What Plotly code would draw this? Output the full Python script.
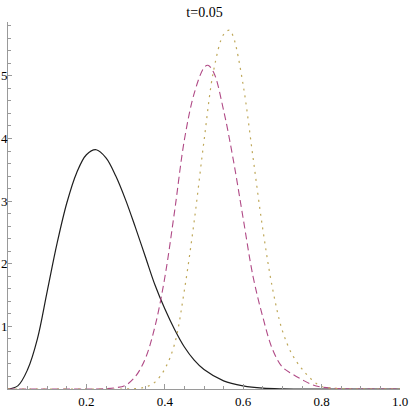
"""Three density curves at t=0.05, drawn in the Mathematica style"""

import plotly.graph_objects as go

# values
black_x = [0, 0.025, 0.05, 0.075, 0.1, 0.125, 0.15, 0.175, 0.2, 0.225, 0.25,
           0.275, 0.3, 0.325, 0.35, 0.375, 0.4, 0.425, 0.45, 0.475, 0.5,
           0.55, 0.6, 0.65, 0.7, 0.8, 0.9, 1.0]
black_y = [0, 0.05, 0.31, 0.8, 1.56, 2.32, 2.97, 3.45, 3.74, 3.82, 3.69,
           3.40, 3.02, 2.58, 2.12, 1.66, 1.28, 0.95, 0.67, 0.46, 0.31,
           0.13, 0.05, 0.014, 0.003, 0, 0, 0]

magenta_x = [0, 0.1, 0.2, 0.25, 0.275, 0.3, 0.325, 0.35, 0.375, 0.4, 0.425,
             0.45, 0.475, 0.5, 0.51, 0.525, 0.55, 0.575, 0.6, 0.625, 0.65,
             0.675, 0.7, 0.725, 0.75, 0.775, 0.8, 0.85, 0.9, 1.0]
magenta_y = [0, 0, 0, 0.005, 0.02, 0.06, 0.2, 0.48, 1.0, 1.78, 2.84,
             3.98, 4.72, 5.13, 5.17, 5.05, 4.45, 3.65, 2.72, 1.8, 1.15,
             0.63, 0.35, 0.24, 0.15, 0.07, 0.03, 0.005, 0, 0]

yellow_x = [0, 0.1, 0.2, 0.3, 0.35, 0.375, 0.4, 0.425, 0.45, 0.475, 0.5,
            0.525, 0.55, 0.565, 0.575, 0.6, 0.625, 0.65, 0.675, 0.7, 0.725,
            0.75, 0.775, 0.8, 0.85, 0.9, 1.0]
yellow_y = [0, 0, 0, 0, 0.03, 0.11, 0.32, 0.72, 1.58, 2.68, 3.96,
            5.1, 5.66, 5.73, 5.62, 4.85, 3.7, 2.55, 1.6, 0.93, 0.55,
            0.32, 0.15, 0.04, 0.005, 0, 0]

x_ticks = [0.2, 0.4, 0.6, 0.8, 1.0]
x_labels = ["0.2", "0.4", "0.6", "0.8", "1.0"]
y_ticks = [1, 2, 3, 4, 5]

serif = "Liberation Serif, Times New Roman, Times, serif"
axis_grey = "#9a9a9a"

fig = go.Figure()
fig.add_trace(go.Scatter(x=black_x, y=black_y, mode="lines",
                         line=dict(color="#1e1e1e", width=1.2, shape="spline")))
fig.add_trace(go.Scatter(x=magenta_x, y=magenta_y, mode="lines",
                         line=dict(color="#b04a86", width=1.1, shape="spline",
                                   dash="7px,4px")))
fig.add_trace(go.Scatter(x=yellow_x, y=yellow_y, mode="lines",
                         line=dict(color="#bfa85a", width=1.2, shape="spline",
                                   dash="2px,5px")))

fig.update_layout(
    width=409, height=409,
    margin=dict(l=8, r=9, t=22, b=20, autoexpand=False),
    paper_bgcolor="white", plot_bgcolor="white",
    showlegend=False,
    title=dict(text="t=0.05", x=0.5, xanchor="center", y=0.97, yanchor="middle",
               font=dict(family=serif, size=14, color="black")),
    font=dict(family=serif, size=13, color="black"),
)
fig.update_xaxes(
    range=[0, 1.0], showgrid=False, zeroline=False, automargin=False,
    showline=True, linecolor=axis_grey, linewidth=1,
    tickmode="array", tickvals=x_ticks, ticktext=x_labels,
    ticks="inside", ticklen=5, tickcolor=axis_grey, tickwidth=1,
    minor=dict(tickmode="linear", tick0=0, dtick=0.05, ticks="inside",
               ticklen=3, tickcolor=axis_grey, showgrid=False),
    tickfont=dict(family=serif, size=13),
)
fig.update_yaxes(
    range=[0, 5.86], showgrid=False, zeroline=False, automargin=False,
    showline=True, linecolor=axis_grey, linewidth=1,
    tickmode="array", tickvals=y_ticks, ticklabelstandoff=-3,
    ticks="inside", ticklen=4, tickcolor=axis_grey, tickwidth=1,
    minor=dict(tickmode="linear", tick0=0, dtick=0.2, ticks="inside",
               ticklen=2.5, tickcolor=axis_grey, showgrid=False),
    tickfont=dict(family=serif, size=13),
)

# the page body has a default 8px margin; drop it so the figure fills the window
fig.write_html("out.html", config={"displayModeBar": False},
               post_script="document.body.style.margin='0px';")
